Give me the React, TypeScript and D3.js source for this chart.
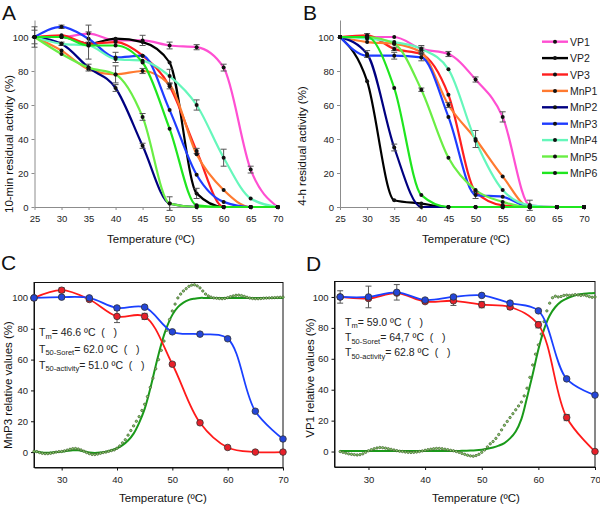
import React, { useRef, useEffect } from 'react';
import * as d3 from 'd3';

const FONT = '"Liberation Sans", Arial, Helvetica, sans-serif';

// temperatures of the residual activity assays (panels A and B)
const temps = [25, 30, 35, 40, 45, 50, 55, 60, 65, 70];
const pctTicks = [0, 20, 40, 60, 80, 100];
const enzymes = ['VP1', 'VP2', 'VP3', 'MnP1', 'MnP2', 'MnP3', 'MnP4', 'MnP5', 'MnP6'];
const enzymeColors = ['#ff4fd2', '#000000', '#ff1f1f', '#ff7a30', '#000080', '#1f3cff', '#66f7bb', '#6aee45', '#1fe61f'];

// A: 10-min residual activity (%)
const tenMin = [
  [100, 100, 102, 98, 98, 95, 94, 82, 22, 0],
  [100, 100, 96, 99, 97, 85, 8, 0, 0, 0],
  [100, 101, 96, 97, 89, 71, 33, 0, 0, 0],
  [100, 92, 81, 78, 80, 72, 31, 10, 0, 0],
  [100, 96, 82, 70, 36, 2, 0, 0, 0, 0],
  [100, 106, 99, 88, 89, 57, 19, 3, 0, 0],
  [100, 96, 95, 87, 86, 77, 60, 29, 5, 0],
  [100, 90, 82, 78, 53, 2, 0, 0, 0, 0],
  [100, 100, 95, 95, 85, 46, 1, 0, 0, 0],
];
const tenMinErr = [
  [0, 0, 5, 0, 3, 2, 1.5, 2, 2, 0],
  [4, 0, 0, 0, 0, 0, 3, 0, 0, 0],
  [0, 0, 0, 0, 0, 1.5, 1.5, 0, 0, 0],
  [0, 0, 0, 5, 1.5, 0, 0, 0, 0, 0],
  [0, 1, 2, 2, 1.5, 0, 0, 0, 0, 0],
  [0, 1, 0, 3, 0, 0, 0, 0, 0, 0],
  [0, 0, 0, 0, 0, 4, 3, 5, 0, 0],
  [6, 0, 0, 0, 2, 4, 0, 0, 0, 0],
  [0, 0, 8, 0, 0, 0, 0, 0, 0, 0],
];

// B: 4-h residual activity (%)
const fourHour = [
  [100, 100, 100, 93, 90, 75, 53, 1, 0, 0],
  [100, 74, 4, 2, 0, 0, 0, 0, 0, 0],
  [100, 101, 93, 90, 66, 9, 1, 0, 0, 0],
  [100, 97, 96, 91, 60, 40, 18, 0, 0, 0],
  [100, 90, 35, 0, 0, 0, 0, 0, 0, 0],
  [100, 89, 89, 88, 53, 7, 6, 0, 0, 0],
  [100, 99, 97, 93, 81, 39, 10, 1, 0, 0],
  [100, 100, 96, 69, 29, 10, 3, 0, 0, 0],
  [100, 100, 70, 7, 0, 0, 0, 0, 0, 0],
];
const fourHourErr = [
  [0, 0, 0, 1, 1.5, 1.5, 3, 3, 0, 0],
  [0, 0, 0, 0, 0, 0, 0, 0, 0, 0],
  [0, 1, 1, 0, 0, 0, 0, 0, 0, 0],
  [0, 0, 0, 0, 1.5, 5, 0, 0, 0, 0],
  [0, 2, 2, 0, 0, 0, 0, 0, 0, 0],
  [0, 0, 2, 2, 0, 2, 0, 0, 0, 0],
  [0, 0, 0, 2, 0, 0, 0, 0, 0, 0],
  [0, 0, 0, 1, 0, 0, 0, 0, 0, 0],
  [0, 0, 0, 0, 0, 0, 0, 0, 0, 0],
];

// C / D: activity (red) and Soret (blue), measured every 5 ºC
const mnp3Activity = [100, 105, 99, 88, 88, 57, 19, 3, 0, 0];
const mnp3ActivityErr = [0, 1.5, 0, 4, 2, 1, 1, 0, 0, 0];
const mnp3Soret = [100, 100.5, 100, 93.5, 94, 78, 76.5, 73.5, 26.5, 8.5];
const vp1Activity = [100, 99, 102.5, 97, 97.5, 95, 93.5, 82, 22, 0];
const vp1ActivityErr = [0, 0, 0, 1, 3, 2, 1.5, 2, 2, 0];
const vp1Soret = [100, 100, 103, 98, 100, 101, 96, 91, 47, 36.5];
const vp1SoretErr = [4, 7, 5, 1, 1, 0, 1, 0, 0, 0];

// CD signal (green dots every 0.5 ºC, 25..70) and its fit (every 1 ºC, 25..70)
const halfTemps = d3.range(25, 70.01, 0.5);
const wholeTemps = d3.range(25, 70.01, 1);
const mnp3Cd = [
  0.5, 0.3, -0.3, -0.8, -1, -1, -0.8, -0.4, 0, 0.3, 0.4, 0.8, 1.3, 1.8, 2.2, 2.3, 2, 1.4, 0.6, -0.3,
  -1, -1.5, -1.6, -1.3, -0.8, -0.3, 0, 0.5, 1, 1.4, 2.5, 4, 6, 8, 11, 14, 17, 20, 23, 27,
  31, 36, 42, 48, 54, 60, 66, 72, 79, 86, 91.5, 96, 100, 102.5, 104.5, 106, 107.5, 108.3, 108.5, 107.8,
  106.5, 104.5, 102.5, 101.3, 100.5, 100, 99.8, 99.6, 99.5, 99.7, 100.2, 100.8, 101.3, 101.7, 101.8, 101.5, 101, 100.4, 99.9, 99.6,
  99.5, 99.5, 99.6, 99.8, 99.9, 100, 100.1, 100.2, 100.3, 100.4, 100.5,
];
const mnp3CdFit = [
  0.3, 0, -0.5, -0.3, 0, 0.3, 0.8, 1.2, 1.2, 0.5, -0.3, -0.6, -0.3, 0.3, 1.2, 2.5, 4.5, 7.5, 12, 19,
  28, 41, 56, 70, 81, 89, 94, 97, 98.7, 99.5, 100, 100, 100, 100, 100, 100, 100, 100, 100, 100,
  100, 100, 100, 100, 100, 100,
];
const vp1Cd = [
  0, -0.5, -1, -1.5, -1.8, -2, -2.2, -2, -1.5, -0.5, 0.5, 1.2, 1.8, 2.3, 2.6, 2.5, 2.2, 1.8, 1.4, 1,
  0.6, 0.2, 0, -0.3, -0.5, -0.6, -0.5, -0.3, 0, 0.4, 0.8, 1.2, 1.5, 1.8, 2, 2, 1.8, 1.5, 1.2, 0.8,
  0.5, 0, -0.5, -1.2, -1.8, -2.4, -2.8, -3, -2.6, -1.8, -0.5, 1, 3, 5, 6.5, 8.5, 11, 14, 17, 19.5,
  22, 24.5, 27, 29.5, 32, 36, 41, 48, 56, 63, 69, 76, 84, 91, 96, 99.5, 100.5, 100, 100.3, 101,
  101.2, 101, 101.2, 101.5, 101.3, 101, 101.3, 100.8, 100.2, 99.8, 100,
];
const vp1CdFit = [
  0.3, 0.3, 0.3, 0.3, 0.3, 0.3, 0.3, 0.3, 0.3, 0.3, 0.3, 0.3, 0.3, 0.3, 0.3, 0.3, 0.3, 0.3, 0.3, 0.3,
  0.3, 0.4, 0.5, 0.6, 0.8, 1.2, 1.8, 2.6, 3.8, 5.5, 8.5, 13, 21, 35, 50, 66, 79, 88, 93.5, 97,
  99, 100.5, 101.5, 102, 102.4, 102.6,
];

const spectroTicksX = [30, 40, 50, 60, 70];

type Sel = d3.Selection<SVGGElement, unknown, null, undefined>;

function styleAxis(a: Sel, color: string) {
  a.select('.domain').attr('stroke', color);
  a.selectAll('.tick line').attr('stroke', color);
  a.selectAll('.tick text').attr('font-size', 9.5).attr('font-family', FONT).attr('fill', '#222');
}

function errorBars(g: Sel, xs: number[], vals: number[], errs: number[], x: any, y: any) {
  vals.forEach((v, i) => {
    const e = errs[i];
    if (!e) return;
    const cx = x(xs[i]);
    g.append('line').attr('x1', cx).attr('x2', cx).attr('y1', y(v - e)).attr('y2', y(v + e)).attr('stroke', '#555').attr('stroke-width', 1);
    [v - e, v + e].forEach(w =>
      g.append('line').attr('x1', cx - 3).attr('x2', cx + 3).attr('y1', y(w)).attr('y2', y(w)).attr('stroke', '#555').attr('stroke-width', 1));
  });
}

function yTitle(g: Sel, cx: number, cy: number, label: string) {
  g.append('text').attr('transform', `translate(${cx},${cy}) rotate(-90)`).attr('text-anchor', 'middle')
    .attr('dominant-baseline', 'central').attr('font-size', 11.5).attr('font-family', FONT).attr('fill', '#111').text(label);
}

function xTitle(g: Sel, cx: number, cy: number) {
  g.append('text').attr('x', cx).attr('y', cy).attr('text-anchor', 'middle').attr('dominant-baseline', 'central')
    .attr('font-size', 11.5).attr('font-family', FONT).attr('fill', '#111').text('Temperature (ºC)');
}

function letter(g: Sel, lx: number, ly: number, label: string) {
  g.append('text').attr('x', lx).attr('y', ly).attr('font-size', 21).attr('font-family', FONT).attr('fill', '#111').text(label);
}

function drawResidual(g: Sel, left: number, right: number, values: number[][], errs: number[][]) {
  const x = d3.scaleLinear().domain([25, 70]).range([left, right]);
  const y = d3.scaleLinear().domain([0, 110]).range([207, 20]);
  const ya = g.append('g').attr('transform', `translate(${left},0)`)
    .call(d3.axisLeft(y).tickValues(pctTicks).tickSize(3).tickSizeOuter(0).tickPadding(3));
  const xa = g.append('g').attr('transform', `translate(0,${y(0)})`)
    .call(d3.axisBottom(x).tickValues(temps).tickSize(3).tickSizeOuter(0).tickPadding(5));
  styleAxis(ya, '#8c8c8c');
  styleAxis(xa, '#8c8c8c');

  const line = d3.line<number>().x((_, i) => x(temps[i])).y(v => y(v)).curve(d3.curveMonotoneX);
  values.forEach((vals, s) => {
    g.append('path').attr('d', line(vals)).attr('fill', 'none').attr('stroke', enzymeColors[s]).attr('stroke-width', 2.2);
  });
  values.forEach((vals, s) => {
    errorBars(g, temps, vals, errs[s], x, y);
    vals.forEach((v, i) => g.append('circle').attr('cx', x(temps[i])).attr('cy', y(v)).attr('r', 2).attr('fill', '#111'));
  });
}

function drawSpectro(
  g: Sel, box: { l: number; r: number; t: number; b: number }, xMin: number,
  cd: number[], cdFit: number[], act: number[], actErr: number[], soret: number[], soretErr: number[],
  notes: [string, string][], noteX: number, noteY: number[],
) {
  const x = d3.scaleLinear().domain([xMin, 70]).range([box.l, box.r]);
  const y = d3.scaleLinear().domain([-10, 110]).range([box.b, box.t]);
  const ya = g.append('g').attr('transform', `translate(${box.l},0)`)
    .call(d3.axisLeft(y).tickValues(pctTicks).tickSize(3).tickSizeOuter(0).tickPadding(3));
  const xa = g.append('g').attr('transform', `translate(0,${box.b})`)
    .call(d3.axisBottom(x).tickValues(spectroTicksX).tickSize(3).tickSizeOuter(0).tickPadding(6));
  styleAxis(ya, '#111');
  styleAxis(xa, '#111');
  g.append('rect').attr('x', box.l).attr('y', box.t).attr('width', box.r - box.l).attr('height', box.b - box.t)
    .attr('fill', 'none').attr('stroke', '#111').attr('stroke-width', 1);

  const fit = d3.line<number>().x((_, i) => x(wholeTemps[i])).y(v => y(v)).curve(d3.curveCatmullRom);
  const smooth = d3.line<number>().x((_, i) => x(temps[i])).y(v => y(v)).curve(d3.curveCatmullRom);

  g.append('path').attr('d', fit(cdFit)).attr('fill', 'none').attr('stroke', '#1a9a1a').attr('stroke-width', 2);
  cd.forEach((v, i) => g.append('circle').attr('cx', x(halfTemps[i])).attr('cy', y(v)).attr('r', 1.2)
    .attr('fill', '#8fd070').attr('stroke', '#3a5a28').attr('stroke-width', 0.7));

  g.append('path').attr('d', smooth(act)).attr('fill', 'none').attr('stroke', '#ff1a1a').attr('stroke-width', 1.8);
  g.append('path').attr('d', smooth(soret)).attr('fill', 'none').attr('stroke', '#1a40ff').attr('stroke-width', 1.8);
  errorBars(g, temps, act, actErr, x, y);
  errorBars(g, temps, soret, soretErr, x, y);
  act.forEach((v, i) => g.append('circle').attr('cx', x(temps[i])).attr('cy', y(v)).attr('r', 3.3)
    .attr('fill', '#e8202a').attr('stroke', '#333').attr('stroke-width', 0.8));
  soret.forEach((v, i) => g.append('circle').attr('cx', x(temps[i])).attr('cy', y(v)).attr('r', 3.3)
    .attr('fill', '#2446d8').attr('stroke', '#333').attr('stroke-width', 0.8));

  notes.forEach(([sub, val], k) => {
    const t = g.append('text').attr('x', noteX).attr('y', noteY[k]).attr('font-size', 10.5).attr('font-family', FONT)
      .attr('fill', '#222').style('white-space', 'pre');
    t.append('tspan').text('T');
    t.append('tspan').attr('font-size', 7.5).attr('dy', 2.5).text(sub);
    t.append('tspan').attr('dy', -2.5).text(`= ${val} ºC  (   )`);
  });
}

export default function App() {
  const ref = useRef<SVGSVGElement | null>(null);

  useEffect(() => {
    if (!ref.current) return;
    const svg = d3.select(ref.current);
    svg.selectAll('*').remove();
    const root = svg.append('g') as unknown as Sel;

    // A
    const gA = root.append('g');
    drawResidual(gA, 34.5, 277.7, tenMin, tenMinErr);
    letter(gA, 2, 20, 'A');
    yTitle(gA, 9, 144, '10-min residual activity (%)');
    xTitle(gA, 151, 239);

    // B
    const gB = root.append('g');
    drawResidual(gB, 340, 584, fourHour, fourHourErr);
    letter(gB, 303, 20, 'B');
    yTitle(gB, 302, 146, '4-h residual activity (%)');
    xTitle(gB, 466, 239);

    // legend
    enzymes.forEach((name, i) => {
      const ly = 41.7 + i * 16.4;
      gB.append('line').attr('x1', 542).attr('x2', 568).attr('y1', ly).attr('y2', ly)
        .attr('stroke', enzymeColors[i]).attr('stroke-width', 2.4);
      gB.append('circle').attr('cx', 555).attr('cy', ly).attr('r', 2).attr('fill', '#111');
      gB.append('text').attr('x', 570).attr('y', ly).attr('dominant-baseline', 'central').attr('font-size', 10.5)
        .attr('font-family', FONT).attr('fill', '#222').text(name);
    });

    // C
    const gC = root.append('g');
    drawSpectro(gC, { l: 34, r: 283, t: 282.5, b: 467.5 }, 25, mnp3Cd, mnp3CdFit,
      mnp3Activity, mnp3ActivityErr, mnp3Soret, mnp3Soret.map(() => 0),
      [['m', '46.6'], ['50-Soret', '62.0'], ['50-activity', '51.0']], 39, [336, 352.5, 368.5]);
    letter(gC, 1, 270, 'C');
    yTitle(gC, 8, 385, 'MnP3 relative values (%)');
    xTitle(gC, 163, 498);

    // D
    const gD = root.append('g');
    drawSpectro(gD, { l: 334.5, r: 595, t: 281.5, b: 467 }, 24, vp1Cd, vp1CdFit,
      vp1Activity, vp1ActivityErr, vp1Soret, vp1SoretErr,
      [['m', '59.0'], ['50-Soret', '64,7'], ['50-activity', '62.8']], 345, [325.5, 341, 356]);
    letter(gD, 306, 271, 'D');
    yTitle(gD, 310, 378, 'VP1 relative values (%)');
    xTitle(gD, 476, 498);
  }, []);

  return (
    <svg ref={ref} width={600} height={505}
      style={{ position: 'absolute', left: 0, top: 0, background: '#fff' }} />
  );
}
